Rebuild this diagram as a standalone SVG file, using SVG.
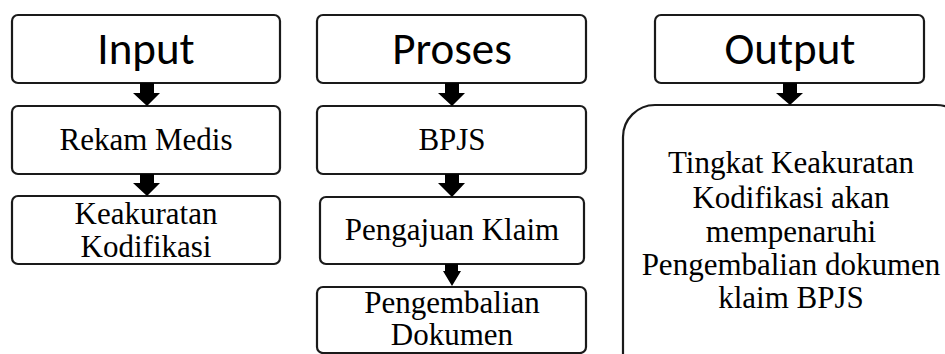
<svg xmlns="http://www.w3.org/2000/svg" width="945" height="354" viewBox="0 0 945 354">
<style>
.box{fill:#fff;stroke:#1a1a1a;stroke-width:2.2}
.hd{font-family:Calibri,'Carlito','Open Sans','Liberation Sans',sans-serif;font-size:45px;fill:#000;text-anchor:middle}
.tx{font-family:'Liberation Serif','Times New Roman',serif;font-size:31px;fill:#000;text-anchor:middle}
.ar{fill:#000}
</style>
<rect width="945" height="354" fill="#fff"/>
<g id="input"><rect class="box" x="12" y="15" width="268" height="68" rx="6"/><text class="hd" x="146" y="64">Input</text></g>
<g id="rekam-medis"><rect class="box" x="12" y="106" width="268" height="68" rx="6"/><text class="tx" x="146" y="150">Rekam Medis</text></g>
<g id="keakuratan"><rect class="box" x="12" y="196" width="268" height="68" rx="6"/><text class="tx" x="146" y="224">Keakuratan</text><text class="tx" x="146" y="257">Kodifikasi</text></g>
<g id="proses"><rect class="box" x="317" y="15" width="269" height="68" rx="6"/><text class="hd" x="452" y="64">Proses</text></g>
<g id="bpjs"><rect class="box" x="317" y="106" width="269" height="68" rx="6"/><text class="tx" x="452" y="150">BPJS</text></g>
<g id="pengajuan"><rect class="box" x="320" y="197" width="264" height="67" rx="6"/><text class="tx" x="452" y="240">Pengajuan Klaim</text></g>
<g id="pengembalian"><rect class="box" x="317" y="287" width="269" height="66" rx="6"/><text class="tx" x="452" y="313">Pengembalian</text><text class="tx" x="452" y="345">Dokumen</text></g>
<g id="output"><rect class="box" x="655" y="15" width="269" height="68" rx="6"/><text class="hd" x="790" y="64">Output</text></g>
<g id="hasil"><rect class="box" x="623" y="105" width="345" height="280" rx="32"/>
<text class="tx" x="791" y="173">Tingkat Keakuratan</text>
<text class="tx" x="791" y="208">Kodifikasi akan</text>
<text class="tx" x="791" y="242">mempenaruhi</text>
<text class="tx" x="791" y="275">Pengembalian dokumen</text>
<text class="tx" x="791" y="308">klaim BPJS</text></g>
<g id="connectors">
<polygon class="ar" points="140,83 154,83 154,93 160,93 147,106 133,93 140,93"/>
<polygon class="ar" points="140,174 154,174 154,183 160,183 147,196 133,183 140,183"/>
<polygon class="ar" points="445,83 459,83 459,93 465,93 452,106 438,93 445,93"/>
<polygon class="ar" points="445,174 459,174 459,183 465,183 452,197 438,183 445,183"/>
<polygon class="ar" points="445,264 458,264 458,271 461,271 452,286 443,271 445,271"/>
<polygon class="ar" points="783,83 797,83 797,93 803,93 790,105 776,93 783,93"/>
</g>
</svg>
